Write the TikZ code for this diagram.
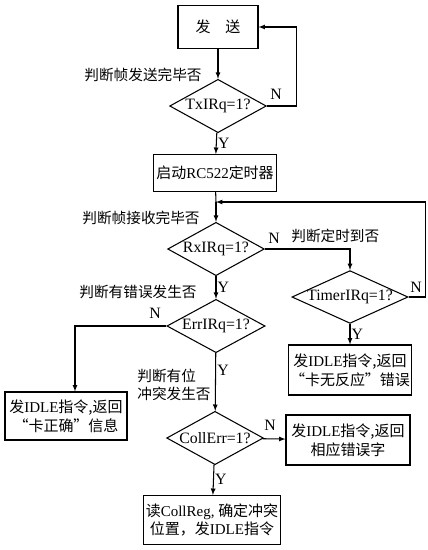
\documentclass[tikz,border=0pt]{standalone}
\usepackage{fontspec}
\setmainfont{Liberation Serif}
\newfontfamily\zh{Noto Sans CJK SC}
\usepackage{tikz}
\usetikzlibrary{shapes.geometric}

\tikzset{
    >=latex,
    procbox/.style={draw, line width=0.9pt, align=center, inner sep=1pt, font=\fontsize{12.8}{16}\selectfont},
    decision/.style={draw, diamond, aspect=2.2, inner sep=0pt, line width=0.9pt,
        minimum width=2.9cm, minimum height=1.6cm, font=\fontsize{13.5}{15}\selectfont},
    note/.style={font=\zh\fontsize{12.5}{15}\selectfont, inner sep=1pt},
    yn/.style={font=\fontsize{13.5}{15}\selectfont, inner sep=1pt},
    flow/.style={->, line width=0.9pt}
}

\begin{document}
\begin{tikzpicture}[x=0.03cm, y=-0.03cm]
    \useasboundingbox (0,0) rectangle (428,550);
    % boxes and decisions
    \node[procbox, minimum width=2.4cm, minimum height=1.29cm] (send) at (218,27) {\zh 发\quad 送};
    \node[decision] (tx) at (218,106) {TxIRq=1?};
    \node[procbox, minimum width=3.69cm, minimum height=1.11cm] (start) at (215,173) {{\zh 启动}RC522{\zh 定时器}};
    \coordinate (m) at (216,202);
    \node[decision] (rx) at (216,249) {RxIRq=1?};
    \node[decision, minimum width=3.48cm, minimum height=1.56cm] (timer) at (350,297) {TimerIRq=1?};
    \node[procbox, minimum width=3.69cm, minimum height=1.5cm] (noresp) at (350,370) {{\zh 发}IDLE{\zh 指令,返回}\\{\zh “卡无反应”错误}};
    \node[decision] (err) at (216,326) {ErrIRq=1?};
    \node[procbox, minimum width=3.66cm, minimum height=1.44cm] (ok) at (66,416) {{\zh 发}IDLE{\zh 指令,返回}\\{\zh “卡正确”信息}};
    \node[decision] (coll) at (215,438) {CollErr=1?};
    \node[procbox, minimum width=3.72cm, minimum height=1.5cm] (code) at (348,440) {{\zh 发}IDLE{\zh 指令,返回}\\{\zh 相应错误字}};
    \node[procbox, minimum width=4.11cm, minimum height=1.47cm] (read) at (212,520) {{\zh 读}CollReg, {\zh 确定冲突}\\{\zh 位置，发}IDLE{\zh 指令}};

    % side notes
    \node[note, anchor=east] (q1) at (203,75) {判断帧发送完毕否};
    \node[note, anchor=east] (q2) at (201,218) {判断帧接收完毕否};
    \node[note, anchor=west] (q3) at (290,236) {判断定时到否};
    \node[note, anchor=east] (q4) at (198,292) {判断有错误发生否};
    \node[note, anchor=east, align=left] (q5) at (212,385) {判断有位\\冲突发生否};

    % connectors
    \draw[flow] (send) -- (tx);
    \draw[flow] (tx.east) -- ++(30,0) |- (send.east);
    \node[yn] (n1) at (276,94) {N};
    \draw[flow] (tx) -- node[yn, right] (y1) {Y} (start);
    \draw[line width=0.9pt] (start) -- (m);
    \draw[flow] (m) -- (rx);
    \draw[flow] (rx.east) -| (timer);
    \node[yn] (n2) at (274,238) {N};
    \draw[flow] (timer.east) -- ++(17,0) |- (m);
    \node[yn] (n3) at (416,287) {N};
    \draw[flow] (timer) -- node[yn, right] (y3) {Y} (noresp);
    \draw[flow] (rx) -- node[yn, right] (y2) {Y} (err);
    \draw[flow] (err.west) -| ([xshift=0.27cm]ok.north);
    \node[yn] (n4) at (155,313) {N};
    \draw[flow] (err) -- node[yn, right, pos=0.3] (y4) {Y} (coll);
    \draw[flow] (coll) -- (code);
    \node[yn] (n5) at (270,425) {N};
    \draw[flow] (coll) -- node[yn, right] (y5) {Y} (read);
\end{tikzpicture}
\end{document}
